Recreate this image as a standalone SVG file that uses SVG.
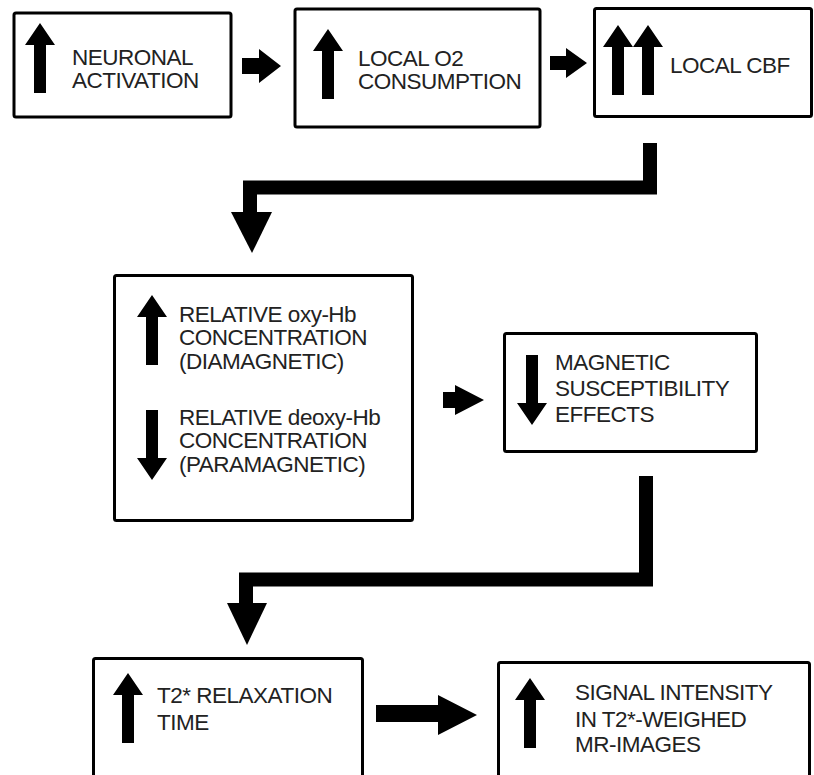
<svg xmlns="http://www.w3.org/2000/svg" xmlns:xlink="http://www.w3.org/1999/xlink" width="814" height="775" viewBox="0 0 814 775">
<style>
.box{fill:#fff;stroke:#000;stroke-width:3}
.t{font-family:"Liberation Sans",Arial,sans-serif;font-size:22.5px;letter-spacing:-0.5px;fill:#222}
.conn{fill:none;stroke:#000;stroke-width:14;stroke-linejoin:miter}
.head{fill:#000}
</style>
<defs>
<polygon id="up" points="0,0 15,22 6,22 6,70 -6,70 -6,22 -15,22" fill="#000"/>
<polygon id="down" points="0,70 15,48 6,48 6,0 -6,0 -6,48 -15,48" fill="#000"/>
</defs>
<rect width="814" height="775" fill="#fff"/>

<g id="connectors">
<polygon class="head" points="242,58 259,58 259,49 281,66 259,83 259,74 242,74"/>
<polygon class="head" points="550,56 566,56 566,48 587,63 566,78 566,70 550,70"/>
<path class="conn" d="M650,143 V187.5 H250 V214"/>
<polygon class="head" points="231,212 272,212 252,253"/>
<polygon class="head" points="443,392 455,392 455,385 484,400 455,415 455,408 443,408"/>
<path class="conn" d="M646,476 V579.5 H246 V605"/>
<polygon class="head" points="227,603 267,603 247,645"/>
<polygon class="head" points="376,705 438,705 438,695 477,715 438,735 438,722 376,722"/>
</g>

<g id="n1">
<rect class="box" x="14" y="13" width="217" height="104" rx="2"/>
<use xlink:href="#up" x="40" y="23"/>
<text class="t" x="72" y="65">NEURONAL</text>
<text class="t" x="72" y="88">ACTIVATION</text>
</g>

<g id="n2">
<rect class="box" x="295" y="9" width="245" height="118" rx="2"/>
<use xlink:href="#up" x="328" y="29"/>
<text class="t" x="358" y="66">LOCAL O2</text>
<text class="t" x="358" y="89">CONSUMPTION</text>
</g>

<g id="n3">
<rect class="box" x="594.5" y="8.5" width="217" height="108" rx="2"/>
<use xlink:href="#up" x="618" y="25"/>
<use xlink:href="#up" x="648" y="25"/>
<text class="t" x="670" y="73">LOCAL CBF</text>
</g>

<g id="n4">
<rect class="box" x="114.5" y="275.5" width="298" height="245" rx="2"/>
<use xlink:href="#up" x="152" y="295"/>
<text class="t" x="179" y="322">RELATIVE oxy-Hb</text>
<text class="t" x="179" y="345">CONCENTRATION</text>
<text class="t" x="179" y="369">(DIAMAGNETIC)</text>
<use xlink:href="#down" x="152" y="410"/>
<text class="t" x="179" y="425">RELATIVE deoxy-Hb</text>
<text class="t" x="179" y="448">CONCENTRATION</text>
<text class="t" x="179" y="472">(PARAMAGNETIC)</text>
</g>

<g id="n5">
<rect class="box" x="504.5" y="333.5" width="252" height="118" rx="2"/>
<use xlink:href="#down" x="532" y="355"/>
<text class="t" x="555" y="370">MAGNETIC</text>
<text class="t" x="555" y="396">SUSCEPTIBILITY</text>
<text class="t" x="555" y="422">EFFECTS</text>
</g>

<g id="n6">
<rect class="box" x="93.5" y="658.5" width="269" height="130" rx="2"/>
<use xlink:href="#up" x="128" y="673"/>
<text class="t" x="157" y="703">T2* RELAXATION</text>
<text class="t" x="157" y="730">TIME</text>
</g>

<g id="n7">
<rect class="box" x="498.5" y="662.5" width="311" height="130" rx="2"/>
<use xlink:href="#up" x="530" y="678"/>
<text class="t" x="575" y="700">SIGNAL INTENSITY</text>
<text class="t" x="575" y="727">IN T2*-WEIGHED</text>
<text class="t" x="575" y="752">MR-IMAGES</text>
</g>
</svg>
